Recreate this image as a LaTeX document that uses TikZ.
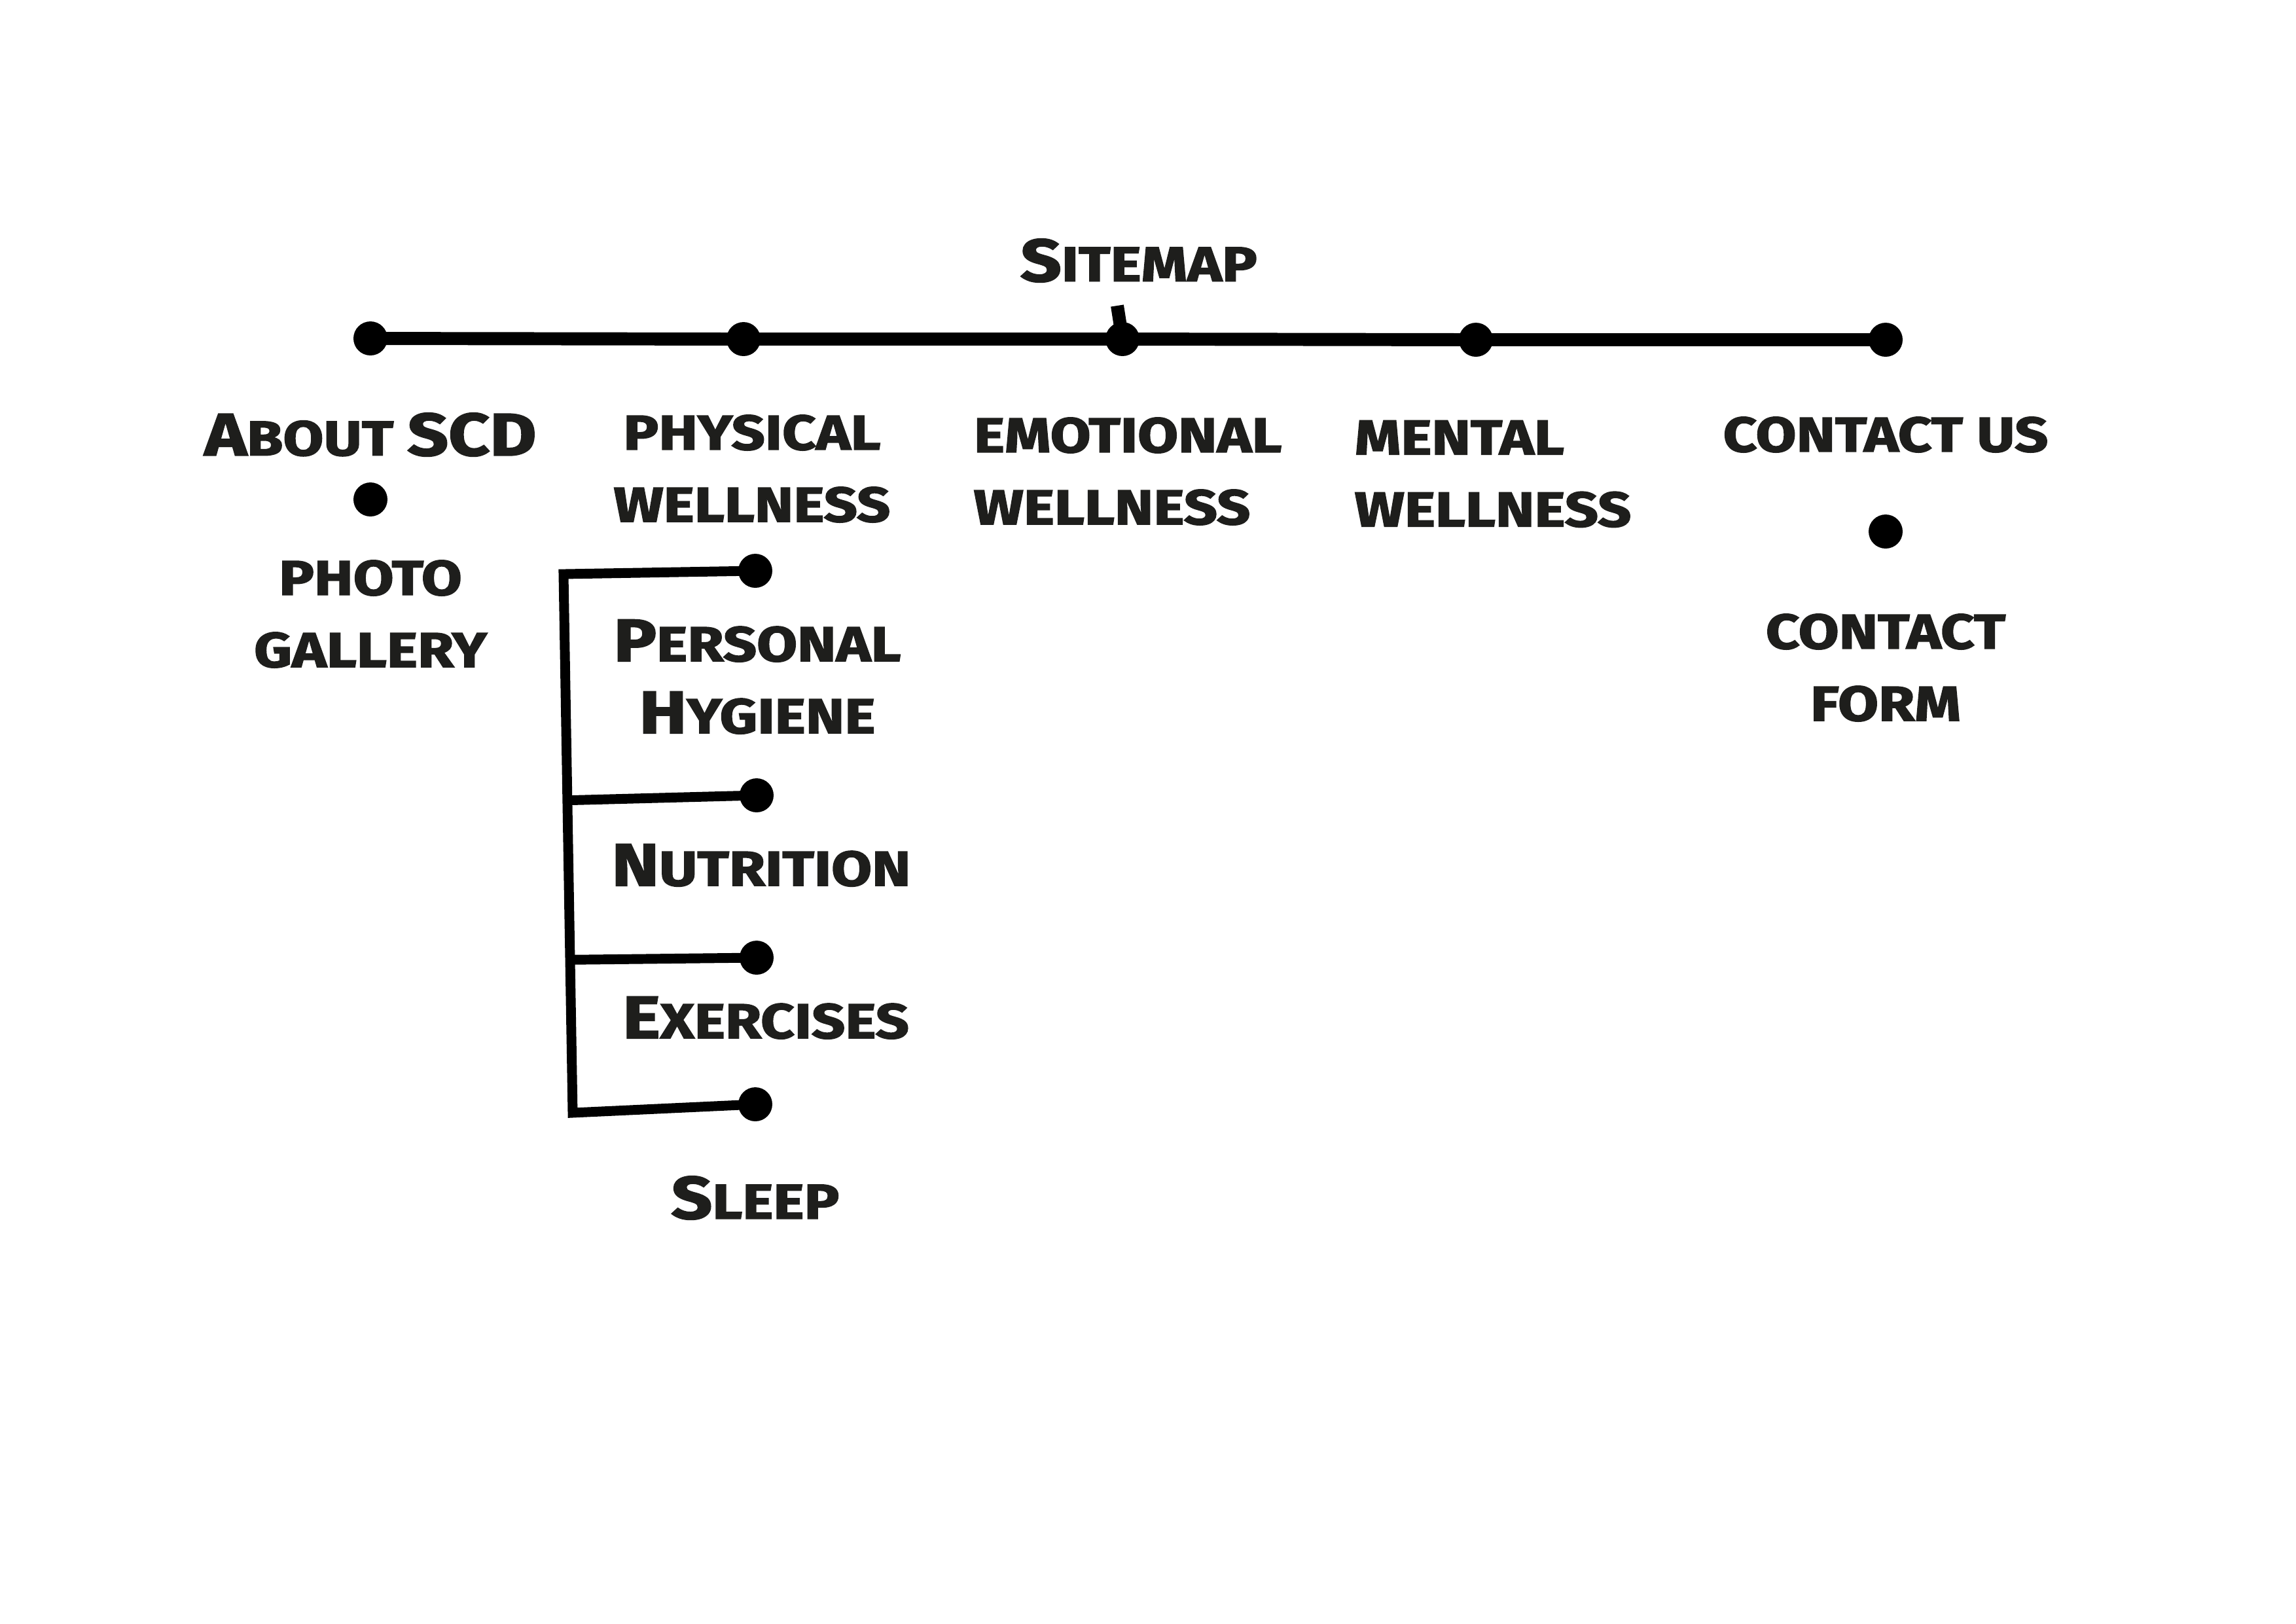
\documentclass[tikz,border=0pt]{standalone}
\usepackage{fontspec}
\setmainfont{Fira Sans}[BoldFeatures={FakeStretch=1.2, FakeBold=2.2}]
\usepackage{tikz}
\usetikzlibrary{calc}
\definecolor{smink}{RGB}{30,30,28}
\definecolor{smline}{RGB}{0,0,0}
\newcommand{\initcap}[1]{{\fontsize{22}{22}\selectfont #1}}
\tikzset{
  lbl/.style={
    text=smink, align=center, inner sep=0pt,
    font=\fontsize{18}{26.5}\selectfont\bfseries
  },
  bar/.style={draw=smline, line width=4.8pt},
  twig/.style={draw=smline, line width=3.6pt},
  dot/.style={circle, fill=smline, inner sep=0pt, minimum size=4.4mm}
}

\begin{document}
\begin{tikzpicture}[x=0.8466cm, y=-0.8466cm]
  \useasboundingbox (0,0) rectangle (35.08,24.80);

  \node[lbl] (title) at (17.40,3.98) {\initcap{S}ITEMAP};

  \node[dot] (about) at (5.66,5.17) {};
  \node[dot] (phys) at (11.36,5.18) {};
  \node[dot] (emo) at (17.15,5.18) {};
  \node[dot] (ment) at (22.55,5.19) {};
  \node[dot] (cont) at (28.81,5.19) {};
  \coordinate (tick) at (17.07,4.67);
  \draw[bar] (about.center) -- (phys.center) -- (emo.center) -- (ment.center) -- (cont.center);
  \draw[bar] (emo.center) -- (tick);

  \node[lbl] (aboutl) at (5.66,6.64) {\initcap{A}BOUT \initcap{SCD}};
  \node[lbl] (physl) at (11.49,7.16) {PHYSICAL\\WELLNESS};
  \node[lbl, anchor=west, align=left] (emol) at (14.87,7.20) {EMOTIONAL\\WELLNESS};
  \node[lbl, anchor=west, align=left] (mentl) at (20.69,7.24) {MENTAL\\WELLNESS};
  \node[lbl] (contl) at (28.81,6.64) {CONTACT US};

  \node[dot] (photo) at (5.66,7.63) {};
  \node[lbl] (photol) at (5.66,9.38) {PHOTO\\GALLERY};

  \node[dot] (form) at (28.81,8.12) {};
  \node[lbl] (forml) at (28.81,10.20) {CONTACT\\FORM};

  \coordinate (spine) at (8.61,8.77);
  \coordinate (spineend) at (8.75,17.00);
  \coordinate (rootb) at ($(spine)!0.42!(spineend)$);
  \coordinate (rootc) at ($(spine)!0.716!(spineend)$);
  \node[dot] (hyg) at (11.54,8.72) {};
  \node[dot] (nut) at (11.56,12.15) {};
  \node[dot] (exe) at (11.56,14.63) {};
  \node[dot] (slp) at (11.54,16.87) {};
  \draw[twig] (hyg.center) -- (spine) -- (spineend) -- (slp.center);
  \draw[twig] (rootb) -- (nut.center);
  \draw[twig] (rootc) -- (exe.center);

  \node[lbl] (hygl) at (11.57,10.34) {\initcap{P}ERSONAL\\\initcap{H}YGIENE};
  \node[lbl] (nutl) at (11.63,13.22) {\initcap{N}UTRITION};
  \node[lbl] (exel) at (11.70,15.55) {\initcap{E}XERCISES};
  \node[lbl] (slpl) at (11.54,18.30) {\initcap{S}LEEP};
\end{tikzpicture}
\end{document}
